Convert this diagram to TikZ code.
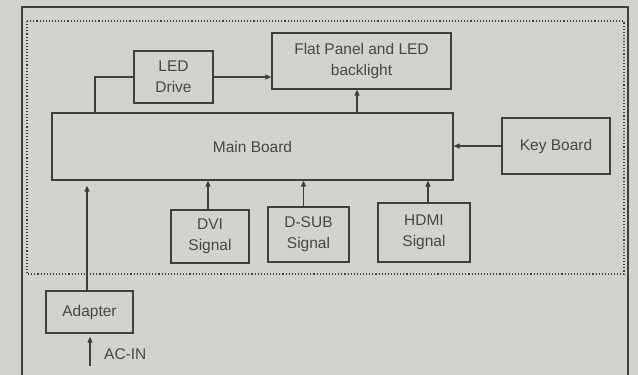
\documentclass[tikz,border=0pt]{standalone}
\usepackage{fontspec}
\setmainfont{Liberation Sans}
\usetikzlibrary{arrows.meta}
\definecolor{bg}{RGB}{210,210,206}
\definecolor{ink}{RGB}{62,62,62}
\definecolor{txt}{RGB}{70,70,70}
\begin{document}
\begin{tikzpicture}[x=1pt,y=-1pt,
  blk/.style={draw=ink, line width=1.2pt, text=txt, align=center, inner sep=0pt,
    font=\fontsize{15.5}{21}\selectfont},
  conn/.style={draw=ink, line width=1.2pt},
  arr/.style={conn, -{Triangle[length=6pt,width=5pt]}}]
\fill[bg] (0,0) rectangle (638,375);
\useasboundingbox (0,0) rectangle (638,375);
% outer frame and dotted region
\draw[ink, line width=1.3pt] (22,375) -- (22,7) -- (628,7) -- (628,375);
\draw[ink, dotted, line width=1.1pt] (27,21) rectangle (624,274);
% blocks
\node[blk, minimum width=79pt, minimum height=52pt] (led) at (173.5,77) {LED\\Drive};
\node[blk, minimum width=179pt, minimum height=56pt] (flat) at (361.5,61) {Flat Panel and LED\\backlight};
\node[blk, minimum width=401pt, minimum height=67pt] (main) at (252.5,146.5) {Main Board};
\node[blk, minimum width=108pt, minimum height=56pt] (key) at (556,146) {Key Board};
\node[blk, minimum width=78pt, minimum height=53pt] (dvi) at (210,236.5) {DVI\\Signal};
\node[blk, minimum width=81pt, minimum height=55pt] (dsub) at (308.5,234.5) {D-SUB\\Signal};
\node[blk, minimum width=92pt, minimum height=59pt] (hdmi) at (424,232.5) {HDMI\\Signal};
\node[blk, minimum width=87pt, minimum height=42pt] (adapter) at (89.5,312) {Adapter};
% helper coordinates
\coordinate (cfp) at (357,0);
\coordinate (cled) at (95,0);
\coordinate (acin) at (90,366);
% connectors
\draw[arr] (led.east) -- (flat.west |- led.east);
\draw[arr] (main.north -| cfp) -- (flat.south -| cfp);
\draw[conn] (main.north -| cled) |- (led.west);
\draw[arr] (key.west) -- (key.west -| main.east);
\draw[arr] ([xshift=-2pt]dvi.north) -- ([xshift=-2pt]dvi.north |- main.south);
\draw[arr] ([xshift=-5pt]dsub.north) -- ([xshift=-5pt]dsub.north |- main.south);
\draw[arr] ([xshift=4pt]hdmi.north) -- ([xshift=4pt]hdmi.north |- main.south);
\draw[arr, shorten >=5pt] ([xshift=-2.5pt]adapter.north) -- ([xshift=-2.5pt]adapter.north |- main.south);
\draw[arr, shorten >=3pt] (acin) -- (acin |- adapter.south);
\node[text=txt, anchor=west, font=\fontsize{15.5}{17}\selectfont, inner sep=0pt] (aclabel) at (104,354) {AC-IN};
\end{tikzpicture}
\end{document}
